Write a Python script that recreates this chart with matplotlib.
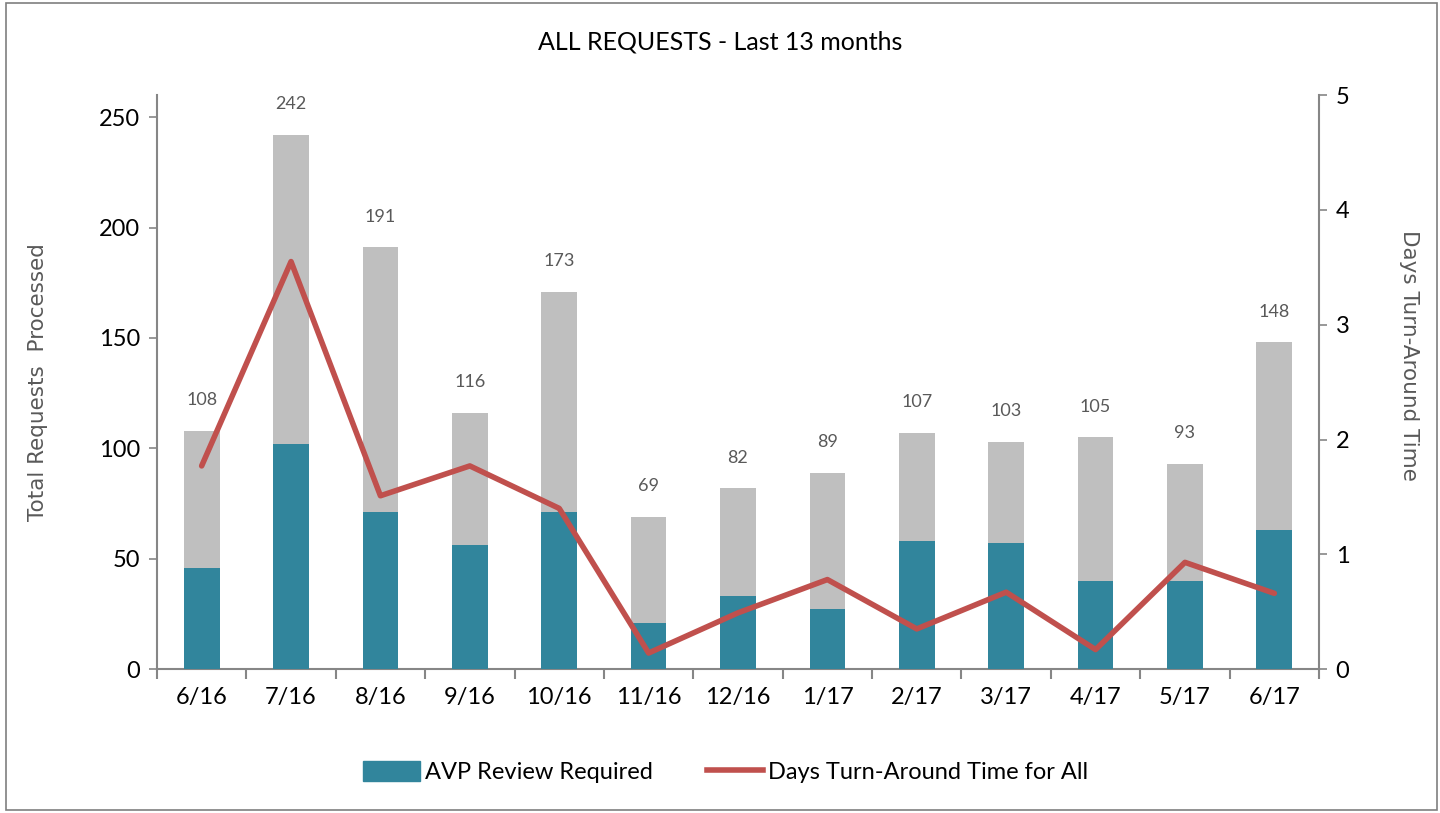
import matplotlib
matplotlib.use("Agg")
import matplotlib.pyplot as plt
from matplotlib.patches import Rectangle
from matplotlib.lines import Line2D
import numpy as np

months = ["6/16", "7/16", "8/16", "9/16", "10/16", "11/16", "12/16",
          "1/17", "2/17", "3/17", "4/17", "5/17", "6/17"]
total_requests = [108, 242, 191, 116, 171, 69, 82, 89, 107, 103, 105, 93, 148]
total_labels = ["108", "242", "191", "116", "173", "69", "82", "89", "107", "103", "105", "93", "148"]
avp_review = [46, 102, 71, 56, 71, 21, 33, 27, 58, 57, 40, 40, 63]
turnaround_days = [1.77, 3.55, 1.51, 1.77, 1.40, 0.14, 0.49, 0.78, 0.35, 0.67, 0.17, 0.93, 0.66]

FONT = ["Lato", "DejaVu Sans"]
plt.rcParams["font.family"] = FONT

GRAY_BAR = "#bfbfbf"
TEAL = "#31859c"
RED = "#c0504d"
AXIS = "#868686"
LABEL_GRAY = "#595959"

fig = plt.figure(figsize=(14.4, 8.13), dpi=100)
fig.patches.append(Rectangle((0.004, 0.004), 0.994, 0.992, transform=fig.transFigure,
                             fill=False, edgecolor="#7f7f7f", linewidth=1.2))

ax = fig.add_axes([0.109, 0.177, 0.807, 0.706])
x = np.arange(len(months))
ax.bar(x, total_requests, width=0.4, color=GRAY_BAR, zorder=2)
ax.bar(x, avp_review, width=0.4, color=TEAL, zorder=3)

for xi, h, lab in zip(x, total_requests, total_labels):
    ax.annotate(lab, (xi, h), xytext=(0, 22), textcoords="offset points",
                ha="center", va="center", fontsize=13, color=LABEL_GRAY)

ax.set_xlim(-0.5, len(months) - 0.5)
ax.set_ylim(0, 260)
ax.set_yticks([0, 50, 100, 150, 200, 250])
ax.set_xticks(x)
ax.set_xticklabels(months, fontsize=17)
ax.set_xticks(np.arange(-0.5, len(months), 1.0), minor=True)
ax.tick_params(axis="x", which="major", length=0, pad=13)
ax.tick_params(axis="x", which="minor", length=7, color=AXIS, width=1.5, direction="out")
ax.tick_params(axis="y", length=6, color=AXIS, width=1.2, labelsize=17, pad=6)
for s in ["top", "right"]:
    ax.spines[s].set_visible(False)
for s in ["left", "bottom"]:
    ax.spines[s].set_color(AXIS)
    ax.spines[s].set_linewidth(1.5)
ax.set_ylabel("Total Requests  Processed", fontsize=15.5, color=LABEL_GRAY,
              family=["DejaVu Sans"])
ax.yaxis.set_label_coords(-0.094, 0.5)

ax2 = ax.twinx()
ax2.plot(x, turnaround_days, color=RED, linewidth=4, zorder=5, solid_capstyle="round")
ax2.set_ylim(0, 5)
ax2.set_yticks([0, 1, 2, 3, 4, 5])
ax2.tick_params(axis="y", length=6, color=AXIS, width=1.2, labelsize=17, pad=6)
for s in ["top", "left", "bottom"]:
    ax2.spines[s].set_visible(False)
ax2.spines["right"].set_color(AXIS)
ax2.spines["right"].set_linewidth(1.5)
ax2.set_ylabel("Days Turn-Around Time", fontsize=15.5, color=LABEL_GRAY,
               family=["DejaVu Sans"], rotation=270, va="center")
ax2.yaxis.set_label_coords(1.077, 0.547)

fig.text(0.5, 0.948, "ALL REQUESTS - Last 13 months", ha="center", va="center", fontsize=18)

handles = [Rectangle((0, 0), 1, 1, color=TEAL),
           Line2D([0], [0], color=RED, linewidth=4)]
fig.legend(handles, ["AVP Review Required", "Days Turn-Around Time for All"],
           loc="center", bbox_to_anchor=(0.504, 0.05), ncol=2, frameon=False,
           fontsize=17, handlelength=2.4, handleheight=0.9, columnspacing=2.3, handletextpad=0.2)

fig.savefig("out.png", dpi=100)
